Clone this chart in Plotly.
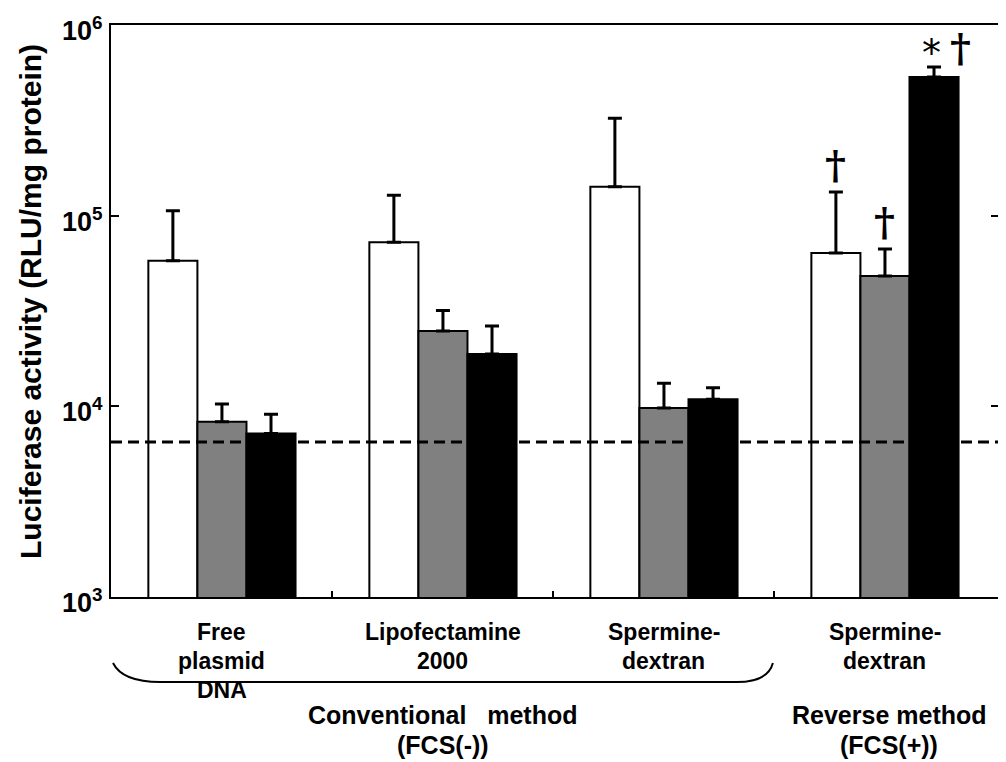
import numpy as np
import plotly.graph_objects as go

# ---- data ----
categories = ["Free\nplasmid\nDNA", "Lipofectamine\n2000", "Spermine-\ndextran", "Spermine-\ndextran"]
series_names = ["white", "gray", "black"]
values_white = [58000, 72500, 142000, 63700]
values_gray = [8300, 24800, 9800, 48300]
values_black = [7200, 18800, 10900, 533000]
errtop_white = [106000, 128000, 324000, 133000]
errtop_gray = [10300, 31800, 13200, 66900]
errtop_black = [9100, 26400, 12500, 602000]
baseline_value = 6500
method_labels = ["Conventional   method\n(FCS(-))", "Reverse method\n(FCS(+))"]
ytick_vals = [1e3, 1e4, 1e5, 1e6]
ytick_text = ["<b>10<sup>3</sup></b>", "<b>10<sup>4</sup></b>", "<b>10<sup>5</sup></b>", "<b>10<sup>6</sup></b>"]

FONT = "Arial, Liberation Sans, sans-serif"
x = np.arange(len(categories))
fills = ["#ffffff", "#808080", "#000000"]
vals = [values_white, values_gray, values_black]
tops = [errtop_white, errtop_gray, errtop_black]

fig = go.Figure()
for name, v, t, c in zip(series_names, vals, tops, fills):
    plus = [tt - vv for tt, vv in zip(t, v)]
    fig.add_trace(go.Bar(
        x=x, y=v, name=name, marker=dict(color=c, line=dict(color="black", width=2)),
        error_y=dict(type="data", symmetric=False, array=plus, arrayminus=[0]*len(v),
                     color="black", thickness=3, width=7),
        showlegend=False))

# page body has an 8px margin, so the figure is sized to fit the window
fig.update_layout(
    width=998, height=754,
    margin=dict(l=103, r=7, t=17, b=165, autoexpand=False),
    paper_bgcolor="white", plot_bgcolor="white",
    barmode="group", bargap=0.334, bargroupgap=0,
    font=dict(family=FONT, color="black"),
)
fig.update_xaxes(range=[-0.502, 3.516], showline=True, linecolor="black", linewidth=2, mirror=True,
                 tickvals=[0.5, 1.5, 2.5], showticklabels=False, ticks="inside", ticklen=6,
                 tickwidth=1.5, tickcolor="black", showgrid=False, zeroline=False, automargin=False)
fig.update_yaxes(type="log", range=[3, 6], showline=True, linecolor="black", linewidth=2,
                 mirror="ticks", tickvals=ytick_vals, showticklabels=False, ticks="inside", ticklen=8,
                 tickwidth=1.5, tickcolor="black", showgrid=False, zeroline=False, automargin=False)

# y tick labels (drawn as annotations so the top one is not clipped)
for tv, tt in zip(ytick_vals, ytick_text):
    fig.add_annotation(text=tt, xref="paper", yref="y", x=0, y=np.log10(tv), xshift=-6, yshift=-4,
                       xanchor="right", yanchor="middle", showarrow=False,
                       font=dict(family=FONT, size=27, color="black"))

# baseline dashed line
fig.add_shape(type="line", xref="paper", x0=0, x1=1, yref="y", y0=baseline_value, y1=baseline_value,
              line=dict(color="black", width=3, dash="11px,6px"))

# y-axis title
fig.add_annotation(text="<b>Luciferase activity (RLU/mg protein)</b>", xref="paper", yref="paper",
                   x=0, y=0.5, xshift=-81, yshift=9, textangle=-90, showarrow=False,
                   font=dict(family=FONT, size=30, color="black"), xanchor="center", yanchor="middle")

# category labels, line by line
for i, cat in enumerate(categories):
    for j, line in enumerate(cat.split("\n")):
        fig.add_annotation(text=f"<b>{line}</b>", xref="x", yref="paper", x=i, y=0,
                           yshift=-(35 + 29 * j), showarrow=False, yanchor="middle",
                           font=dict(family=FONT, size=23, color="black"))

# method labels
method_x = [1, 3.02]
for mx, lab in zip(method_x, method_labels):
    for j, line in enumerate(lab.split("\n")):
        fig.add_annotation(text=f"<b>{line.replace(' ', '&nbsp;')}</b>", xref="x", yref="paper", x=mx, y=0,
                           yshift=-(118 + 30 * j), showarrow=False, yanchor="middle",
                           font=dict(family=FONT, size=25, color="black"))

# brace under conventional groups
fig.add_shape(type="path", xref="x", yref="paper",
              path="M -0.493,-0.1154 Q -0.45,-0.1486 -0.28,-0.1486 L 2.33,-0.1486 Q 2.47,-0.1486 2.493,-0.1154",
              line=dict(color="black", width=2))

# significance marks on reverse method group
w = 0.222
g = 3
fig.add_annotation(text="<b>†</b>", x=g - w, y=np.log10(errtop_white[g]), yshift=2, yanchor="bottom",
                   showarrow=False, font=dict(family="DejaVu Serif", size=40, color="black"))
fig.add_annotation(text="<b>†</b>", x=g, y=np.log10(errtop_gray[g]), yshift=2, yanchor="bottom",
                   showarrow=False, font=dict(family="DejaVu Serif", size=40, color="black"))
fig.add_annotation(text="*", x=g + w - 0.01, y=np.log10(errtop_black[g]), yshift=-10, yanchor="bottom",
                   showarrow=False, font=dict(family="DejaVu Sans", size=38, color="black"))
fig.add_annotation(text="<b>†</b>", x=g + w + 0.12, y=np.log10(errtop_black[g]), yshift=-6, yanchor="bottom",
                   showarrow=False, font=dict(family="DejaVu Serif", size=40, color="black"))

fig.write_html("out.html")
